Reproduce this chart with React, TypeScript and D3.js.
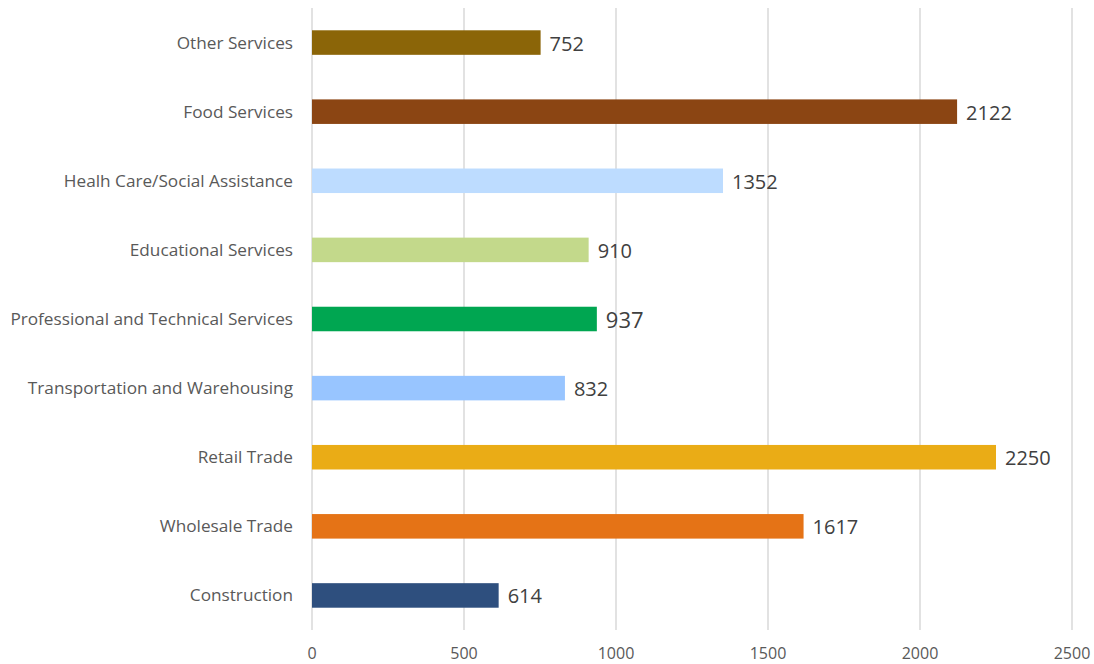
import React from "react";
import * as d3 from "d3";

const categories = [
  "Other Services",
  "Food Services",
  "Healh Care/Social Assistance",
  "Educational Services",
  "Professional and Technical Services",
  "Transportation and Warehousing",
  "Retail Trade",
  "Wholesale Trade",
  "Construction",
];
const values = [752, 2122, 1352, 910, 937, 832, 2250, 1617, 614];
const colors = [
  "#8B6508",
  "#8B4513",
  "#BDDCFF",
  "#C3D98B",
  "#00A651",
  "#98C5FF",
  "#EAAC16",
  "#E57316",
  "#2E4F7E",
];
const labelSizes = [20, 20, 20, 20, 22, 20, 20, 20, 20];
const ticks = [0, 500, 1000, 1500, 2000, 2500];

export default function App() {
  const W = 1094, H = 664;
  const x = d3.scaleLinear().domain([0, 2500]).range([312, 1072]);
  const y = d3.scaleBand<string>().domain(categories).range([8, 630]).paddingInner(0.645).paddingOuter(0.3225);
  const font = "'Open Sans', sans-serif";
  return (
    <svg width={W} height={H} style={{ position: "absolute", left: 0, top: 0 }}>
      <rect width={W} height={H} fill="#fff" />
      {ticks.map((t) => (
        <g key={t}>
          <line x1={x(t)} x2={x(t)} y1={8} y2={630} stroke="#D9D9D9" strokeWidth={1.5} />
          <text x={x(t)} y={659} textAnchor="middle" fontFamily={font} fontSize={16} fill="#595959">{t}</text>
        </g>
      ))}
      {categories.map((c, i) => {
        const yy = y(c)!;
        const bw = y.bandwidth();
        return (
          <g key={c}>
            <rect x={x(0)} y={yy} width={x(values[i]) - x(0)} height={bw} fill={colors[i]} />
            <text x={293} y={yy + bw / 2} dy="0.35em" textAnchor="end" fontFamily={font} fontSize={17.2} fill="#595959">{c}</text>
            <text x={x(values[i]) + 9} y={yy + bw / 2 + 1} dy="0.35em" fontFamily={font} fontSize={labelSizes[i]} fill="#404040">{values[i]}</text>
          </g>
        );
      })}
    </svg>
  );
}
